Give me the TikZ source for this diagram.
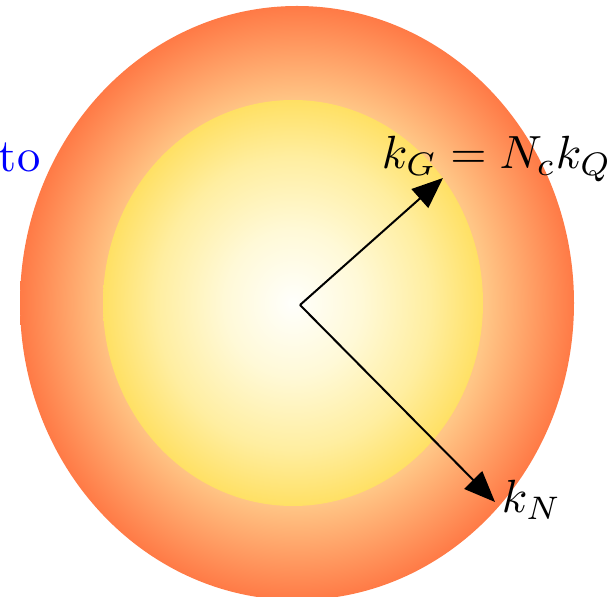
\documentclass[tikz,border=0pt]{standalone}
\usepackage{amsmath}
\usepackage{tikz}
\usetikzlibrary{arrows.meta}

\definecolor{shellout}{RGB}{255,122,70}
\definecolor{shellin}{RGB}{255,198,134}
\definecolor{coreout}{RGB}{255,224,100}
\definecolor{coremid}{RGB}{255,238,160}
\definecolor{corepale}{RGB}{255,249,215}
\definecolor{corein}{RGB}{255,255,252}

\pgfdeclareradialshading{shell}{\pgfpoint{0bp}{0bp}}{color(0bp)=(shellin); color(17bp)=(shellin); color(25bp)=(shellout); color(50bp)=(shellout)}
\pgfdeclareradialshading{core}{\pgfpoint{0bp}{0bp}}{color(0bp)=(corein); color(9bp)=(corepale); color(18bp)=(coremid); color(25bp)=(coreout); color(50bp)=(coreout)}

\begin{document}
\begin{tikzpicture}[x=0.02cm,y=-0.02cm,
                    arr/.style={line width=0.04cm,-{Triangle[length=0.62cm,width=0.5cm]}},
                    lbl/.style={inner sep=0pt,anchor=base west,scale=2.65}]
                        \useasboundingbox (0,0) rectangle (609,597);

                        % Shells
                        \shade[shading=shell] (297,303) ellipse [x radius=277, y radius=297];
                        \shade[shading=core] (293,303) ellipse [x radius=190, y radius=203];

                        % Points
                        \coordinate (o) at (300,305);
                        \coordinate (g) at (443,178);
                        \coordinate (n) at (495,502);

                        % Labels
                        \node[lbl] (kg) at (381,169) {$k_G = N_c k_Q$};
                        \node[lbl] (kn) at (501,513) {$k_N$};
                        \node[lbl, text=blue] (to) at (-2,172) {to};

                        % Arrows
                        \draw[arr] (o) -- (g);
                        \draw[arr] (o) -- (n);
                    \end{tikzpicture}
\end{document}
